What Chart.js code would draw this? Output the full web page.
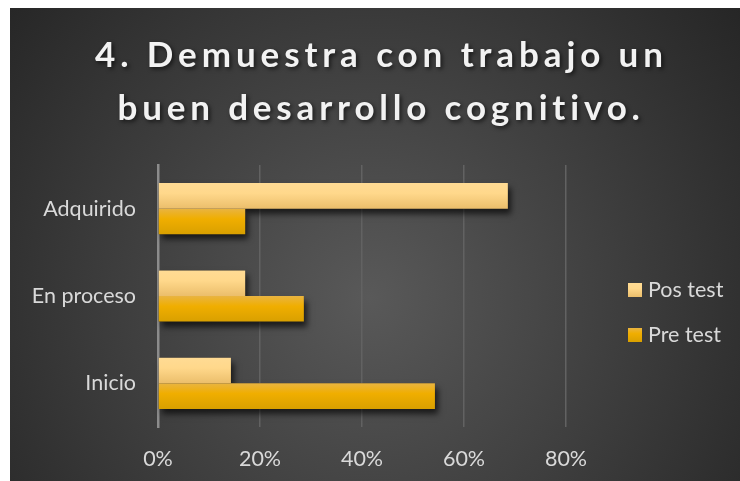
<!DOCTYPE html>
<html>
<head>
<meta charset="utf-8">
<script src="https://cdn.jsdelivr.net/npm/chart.js@4.4.1/dist/chart.umd.min.js"></script>
<style>
  html, body { margin: 0; padding: 0; background: #fff; }
  #wrap { position: absolute; left: 10px; top: 8px; width: 730px; height: 473px; }
</style>
</head>
<body>
<div id="wrap"><canvas id="chart"></canvas></div>
<script>
const titleLines = ['4. Demuestra con trabajo un', 'buen desarrollo cognitivo.'];
const categories = ['Adquirido', 'En proceso', 'Inicio'];
const posTest = [68.6, 17.1, 14.3];
const preTest = [17.1, 28.6, 54.3];
const xTicks = [0, 20, 40, 60, 80];

const posStops = ['#ffdb94', '#ffd88b', '#ebbe6b'];
const preStops = ['#e9b441', '#f0ae00', '#d9a000'];

const barLook = {
  id: 'barLook',
  beforeDraw(chart) {
    const { ctx, width, height } = chart;
    const g = ctx.createRadialGradient(360, 290, 0, 360, 290, 470);
    g.addColorStop(0, '#595959');
    g.addColorStop(1, '#262626');
    ctx.save();
    ctx.fillStyle = g;
    ctx.fillRect(0, 0, width, height);
    ctx.restore();
  },
  beforeDatasetsDraw(chart) {
    const { ctx } = chart;
    ctx.save();
    ctx.shadowColor = 'rgba(0,0,0,0.65)';
    ctx.shadowBlur = 6;
    ctx.shadowOffsetX = 3;
    ctx.shadowOffsetY = 5;
    ctx.fillStyle = '#222';
    chart.data.datasets.forEach((ds, i) => {
      const meta = chart.getDatasetMeta(i);
      meta.data.forEach(el => {
        const top = el.y - el.height / 2;
        ctx.fillRect(el.base, top, el.x - el.base, el.height);
        // per-bar vertical gradient
        const stops = ds.stops;
        const grad = ctx.createLinearGradient(0, top, 0, top + el.height);
        grad.addColorStop(0, stops[0]);
        grad.addColorStop(0.4, stops[1]);
        grad.addColorStop(1, stops[2]);
        el.options = Object.assign({}, el.options, { backgroundColor: grad });
      });
    });
    ctx.restore();
  },
  afterDraw(chart) {
    const { ctx } = chart;
    ctx.save();
    // title
    ctx.font = 'bold 35px Lato';
    ctx.fillStyle = '#f2f2f2';
    ctx.textBaseline = 'alphabetic';
    ctx.shadowColor = 'rgba(0,0,0,0.6)';
    ctx.shadowBlur = 4;
    ctx.shadowOffsetX = 2;
    ctx.shadowOffsetY = 2;
    const targets = [568, 523];
    const baselines = [59, 112];
    titleLines.forEach((t, i) => {
      ctx.letterSpacing = '0px';
      const w = ctx.measureText(t).width;
      const sp = (targets[i] - w) / (t.length - 1);
      ctx.letterSpacing = sp + 'px';
      ctx.fillText(t, 369 - targets[i] / 2, baselines[i]);
    });
    ctx.letterSpacing = '0px';
    ctx.shadowColor = 'transparent';
    // legend
    ctx.font = '21.5px Lato';
    ctx.textBaseline = 'middle';
    const items = [chart.data.datasets[0], chart.data.datasets[1]];
    items.forEach((ds, i) => {
      const y = 275 + i * 45;
      const g = ctx.createLinearGradient(0, y, 0, y + 14);
      g.addColorStop(0, ds.stops[0]);
      g.addColorStop(0.4, ds.stops[1]);
      g.addColorStop(1, ds.stops[2]);
      ctx.fillStyle = g;
      ctx.fillRect(618, y, 14, 14);
      ctx.fillStyle = '#d9d9d9';
      ctx.fillText(ds.label, 638, y + 7);
    });
    ctx.restore();
  }
};

Chart.defaults.font.family = 'Lato';
Chart.defaults.color = '#d9d9d9';

new Chart(document.getElementById('chart'), {
  type: 'bar',
  data: {
    labels: categories,
    datasets: [
      { label: 'Pos test', data: posTest, backgroundColor: posStops[1], stops: posStops },
      { label: 'Pre test', data: preTest, backgroundColor: preStops[1], stops: preStops }
    ]
  },
  options: {
    indexAxis: 'y',
    responsive: true,
    maintainAspectRatio: false,
    animation: false,
    categoryPercentage: 0.585,
    barPercentage: 1,
    layout: { padding: { top: 157, left: 10, right: 174, bottom: 0 } },
    plugins: {
      legend: { display: false },
      title: { display: false },
      tooltip: { enabled: false }
    },
    scales: {
      x: {
        min: xTicks[0],
        max: xTicks[xTicks.length - 1],
        ticks: {
          stepSize: xTicks[1] - xTicks[0],
          callback: v => v + '%',
          font: { size: 21.5 },
          padding: 19
        },
        grid: { color: '#626262', lineWidth: 1.5, drawTicks: false },
        border: { display: false },
        afterFit: s => { s.height = 54; }
      },
      y: {
        ticks: { font: { size: 21.5 }, padding: 22 },
        grid: { display: false, drawTicks: false },
        border: { display: true, color: '#8c8c8c', width: 2.5 },
        afterFit: s => { s.width = 138; }
      }
    }
  },
  plugins: [barLook]
});
</script>
</body>
</html>
